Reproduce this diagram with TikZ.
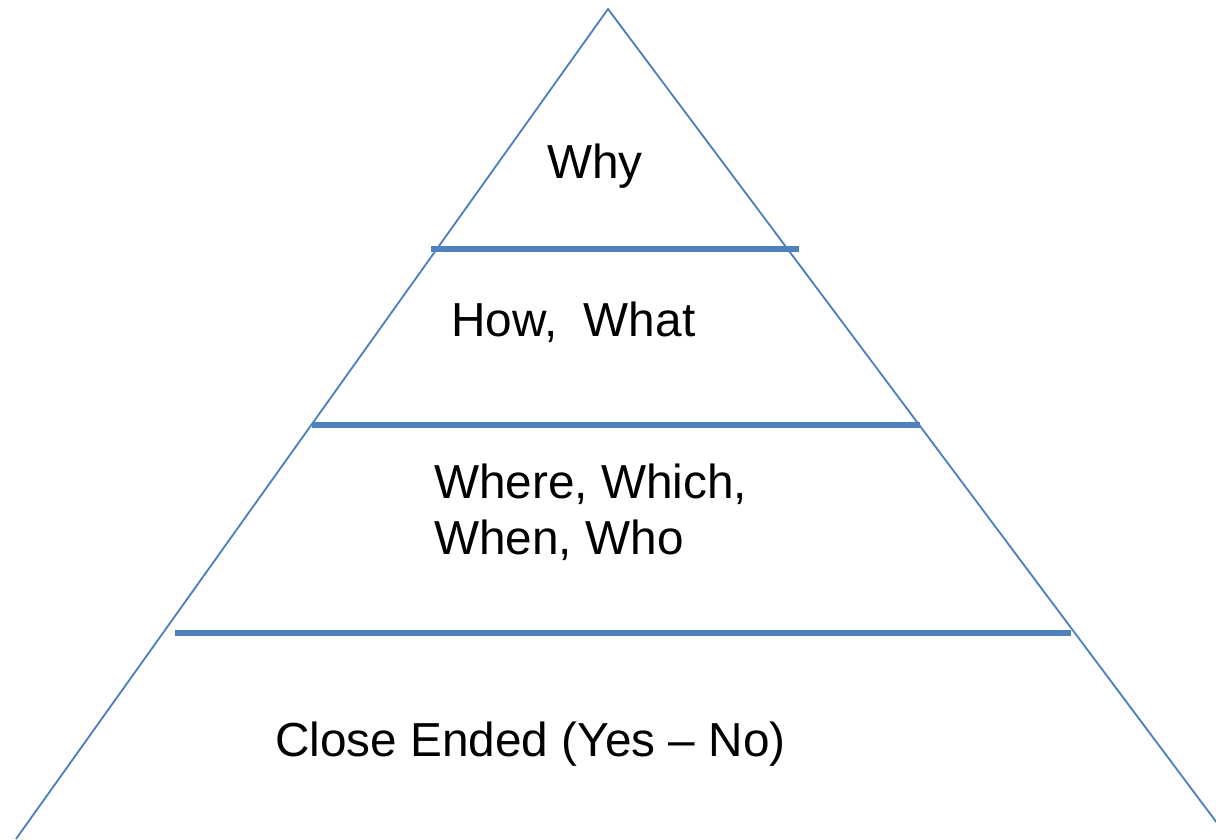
\documentclass[tikz,border=0pt]{standalone}
\usepackage{fontspec}
\setmainfont{Liberation Sans}
\definecolor{pyrblue}{HTML}{4F81BD}
\tikzset{
  level/.style={anchor=base west, inner sep=0pt, font=\fontsize{35.8pt}{42pt}\selectfont, align=left},
  edge/.style={pyrblue, line width=1.4pt},
  tier/.style={pyrblue, line width=4pt}
}
\begin{document}
\begin{tikzpicture}[x=0.75pt, y=-0.75pt]
    \useasboundingbox (0, 0) rectangle (1216, 839);
    \begin{scope}
      \clip (0, 0) rectangle (1216, 839);
      \draw[edge] (16, 839)--(608, 9)--(1229, 839);
    \end{scope}
    \draw[tier] (431, 249)--(799, 249);
    \draw[tier] (312, 425)--(920, 425);
    \draw[tier] (175, 633)--(1071, 633);
    \node[level] (why) at (547, 178) {Why};
    \node[level] (howwhat) at (451, 336) {How,\ \ What};
    \node[level] (where) at (434, 498) {Where, Which,};
    \node[level] (when) at (434, 554) {When, Who};
    \node[level] (closed) at (275, 756) {Close Ended (Yes -- No)};
  \end{tikzpicture}
\end{document}
